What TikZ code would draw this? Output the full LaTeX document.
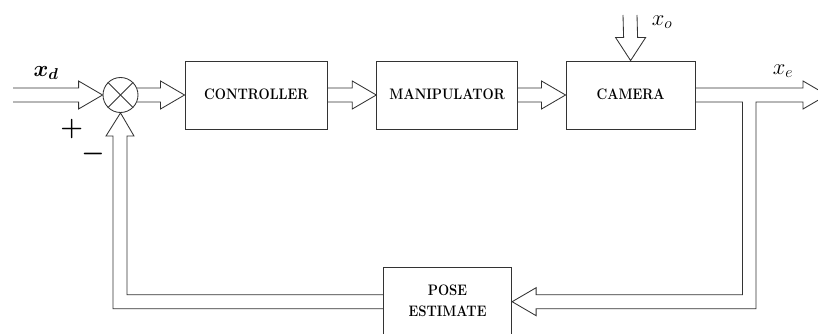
\RequirePackage{fix-cm}
\documentclass[tikz,border=0pt]{standalone}
\usepackage{bm}
\usepackage{graphicx}
\usetikzlibrary{calc}
\definecolor{linegray}{HTML}{333333}
\newcommand\tallcaps[1]{\scalebox{1}[1.15]{\bfseries\begin{tabular}{@{}c@{}}#1\end{tabular}}}
\tikzset{
  flow/.style={draw=linegray, line width=0.85pt, line join=miter},
  blockbox/.style={draw=linegray, line width=0.85pt, rectangle, inner sep=0pt,
    minimum height=68pt, align=center,
    font=\fontsize{13.2}{18}\selectfont\bfseries},
  sumnode/.style={draw=linegray, line width=0.85pt, circle, minimum size=35pt, inner sep=0pt},
  siglabel/.style={font=\fontsize{22.5}{24}\selectfont, inner sep=0pt},
  signlabel/.style={font=\fontsize{26}{28}\selectfont, inner sep=0pt}
}
\begin{document}
\begin{tikzpicture}[x=1pt,y=-1pt]
\useasboundingbox (0,0) rectangle (818,334);
\clip (0,0) rectangle (818,334);

% blocks
\node[sumnode] (sum) at (120.5,95) {};
\node[blockbox, minimum width=142.7pt] (ctrl) at (256.3,95) {\tallcaps{CONTROLLER}};
\node[blockbox, minimum width=141pt] (manip) at (447.2,95) {\tallcaps{MANIPULATOR}};
\node[blockbox, minimum width=129.3pt] (cam) at (630.6,95) {\tallcaps{CAMERA}};
\node[blockbox, minimum width=128.4pt] (pose) at (447.5,301.7) {\tallcaps{POSE\\ESTIMATE}};

% cross in summing junction
\draw[flow] (sum.north west) -- (sum.south east);
\draw[flow] (sum.north east) -- (sum.south west);

% free ends
\coordinate (xdin) at (13,95);
\coordinate (xoin) at (630,15);
\coordinate (xeout) at (827,95);

% input arrow x_d
\draw[flow] ($(xdin)+(0,-7)$) -- ($(sum.west)+(-24,-7)$) -- ($(sum.west)+(-24,-14)$)
  -- (sum.west) -- ($(sum.west)+(-24,14)$) -- ($(sum.west)+(-24,7)$) -- ($(xdin)+(0,7)$);

% sum -> controller
\draw[flow] ($(sum.east)+(-1.5,-7)$) -- ($(ctrl.west)+(-24,-7)$) -- ($(ctrl.west)+(-24,-14)$)
  -- (ctrl.west) -- ($(ctrl.west)+(-24,14)$) -- ($(ctrl.west)+(-24,7)$) -- ($(sum.east)+(-1.5,7)$);

% controller -> manipulator
\draw[flow] ($(ctrl.east)+(0,-7)$) -- ($(manip.west)+(-24,-7)$) -- ($(manip.west)+(-24,-14)$)
  -- (manip.west) -- ($(manip.west)+(-24,14)$) -- ($(manip.west)+(-24,7)$) -- ($(ctrl.east)+(0,7)$);

% manipulator -> camera
\draw[flow] ($(manip.east)+(0,-7)$) -- ($(cam.west)+(-24,-7)$) -- ($(cam.west)+(-24,-14)$)
  -- (cam.west) -- ($(cam.west)+(-24,14)$) -- ($(cam.west)+(-24,7)$) -- ($(manip.east)+(0,7)$);

% disturbance x_o -> camera
\draw[flow] ($(xoin)+(-7,0)$) -- ($(cam.north)+(-7,-23)$) -- ($(cam.north)+(-15,-23)$)
  -- (cam.north) -- ($(cam.north)+(15,-23)$) -- ($(cam.north)+(7,-23)$) -- ($(xoin)+(7,0)$);

% camera -> x_e output and feedback to pose estimate
\draw[flow] ($(cam.east)+(0,-7)$) -- ($(xeout)+(-24,-7)$) -- ($(xeout)+(-24,-14)$) -- (xeout)
  -- ($(xeout)+(-24,14)$) -- ($(xeout)+(-24,7)$) -- (756,102) -- (756,308.7)
  -- ($(pose.east)+(24,7)$) -- ($(pose.east)+(24,14)$) -- (pose.east)
  -- ($(pose.east)+(24,-14)$) -- ($(pose.east)+(24,-7)$) -- (742.5,294.7) -- (742.5,102)
  -- ($(cam.east)+(0,7)$);

% pose estimate -> summing junction
\draw[flow] ($(pose.west)+(0,-7)$) -- (127,294.7) -- (127,136) -- (134,136) -- (sum.south)
  -- (106,136) -- (113,136) -- (113,308.7) -- ($(pose.west)+(0,7)$);

% labels
\node[siglabel] (lxd) at (46,73) {$\bm{x_d}$};
\node[siglabel] (lxo) at (662,22) {$x_o$};
\node[siglabel] (lxe) at (783,71) {$x_e$};
\node[signlabel] (lplus) at (71.7,129) {$\bm{+}$};
\node[signlabel] (lminus) at (93,154) {$\bm{-}$};
\end{tikzpicture}
\end{document}
